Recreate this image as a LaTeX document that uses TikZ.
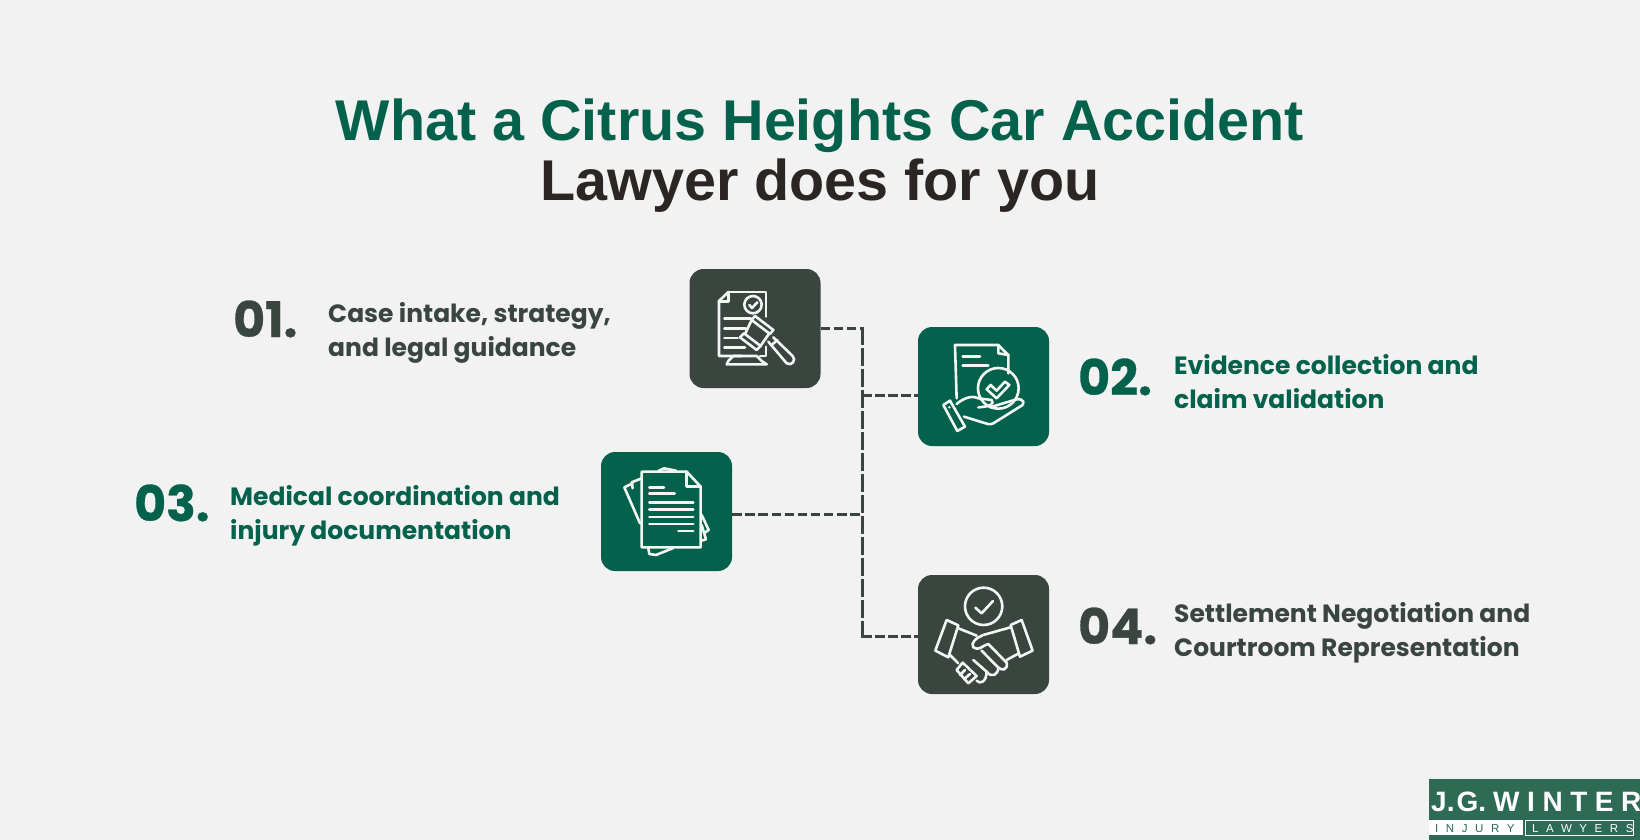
\documentclass[tikz,border=0pt]{standalone}
\usepackage{fontspec}
\setmainfont{Poppins}
\newfontfamily\titlefont{Liberation Sans}
\newfontfamily\numfont{Poppins}[BoldFeatures={FakeBold=0.6}]
\newfontfamily\lgA{Liberation Sans}[LetterSpace=27]
\newfontfamily\lgB{Liberation Sans}[LetterSpace=66]
\definecolor{bg}{HTML}{F2F2F2}
\definecolor{grn}{HTML}{04614B}
\definecolor{drk}{HTML}{3A4540}
\definecolor{ttl}{HTML}{2B2523}
\definecolor{logo}{HTML}{2E6B55}
\definecolor{ink}{HTML}{F2F7F4}
\tikzset{
 tile/.style={rounded corners=14pt,minimum width=131pt,minimum height=119pt,inner sep=0pt,anchor=center},
 link/.style={draw=drk,line width=3pt,dash pattern=on 9.5pt off 3.6pt},
 vlink/.style={draw=drk,line width=3pt,dash pattern=on 18pt off 3pt},
 numtxt/.style={font=\numfont\bfseries\fontsize{49}{49}\selectfont,anchor=base west,inner sep=0pt},
 lbl/.style={font=\bfseries\fontsize{25}{34}\selectfont,anchor=base west,inner sep=0pt},
 ic/.style={draw=ink,line width=2.6pt,line join=round,line cap=round},
 ttlt/.style={font=\titlefont\bfseries\fontsize{57.5}{58}\selectfont,anchor=base,inner sep=0pt}
}
\begin{document}
\begin{tikzpicture}[x=1pt,y=-1pt]
\path[fill=bg] (0,0) rectangle (1640,840);
\useasboundingbox (0,0) rectangle (1640,840);
\node[ttlt,text=grn] (t1) at (820,140) {What a Citrus Heights Car Accident};
\node[ttlt,text=ttl] (t2) at (820,200) {Lawyer does for you};
\node[tile,fill=drk] (b1) at (755,328.5) {};
\node[tile,fill=grn] (b2) at (983.5,386.5) {};
\node[tile,fill=grn] (b3) at (666.5,511.5) {};
\node[tile,fill=drk] (b4) at (983.5,634.5) {};
\coordinate (j2) at (862,395);
\coordinate (j3) at (862,514);
\coordinate (top) at (862,328);
\coordinate (bot) at (862,636);
\draw[link] (b1.east |- top) -- (top);
\draw[vlink] ([yshift=1.5pt]top) -- ([yshift=-1.5pt]bot);
\draw[link] (j2) -- (b2.west |- j2);
\draw[link] (b3.east |- j3) -- (j3);
\draw[link] (bot) -- (b4.west |- bot);
\node[numtxt,text=drk] (n1) at (233,337) {01.};
\node[numtxt,text=grn] (n2) at (1078,395) {02.};
\node[numtxt,text=grn] (n3) at (134,521) {03.};
\node[numtxt,text=drk] (n4) at (1078,644) {04.};
\node[lbl,text=drk,align=left] (l1) at (328,356) {Case intake, strategy,\\and legal guidance};
\node[lbl,text=grn,align=left] (l2) at (1174,408) {Evidence collection and\\claim validation};
\node[lbl,text=grn,align=left] (l3) at (230,539) {Medical coordination and\\injury documentation};
\node[lbl,text=drk,align=left] (l4) at (1174,656) {Settlement Negotiation and\\Courtroom Representation};
\begin{scope}[shift={(670,250)},x=0.3333pt,y=-0.3333pt]
\draw[ic] (175,126) -- (288,126) -- (288,200);
\draw[ic] (175,126) -- (147,153) -- (147,318) -- (215,318);
\draw[ic] (175,126) -- (175,155) -- (147,155);
\draw[ic] (249,164) circle[radius=26];
\draw[ic] (238,165) -- (246,174) -- (262,157);
\draw[ic] (163,205) -- (243,205);
\draw[ic] (163,235) -- (228,235);
\draw[ic] (163,264) -- (203,264);
\draw[ic] (163,293) -- (225,293);
\draw[ic] (288,290) -- (288,318) -- (270,318);
\draw[ic] (255,198) -- (310,240) -- (300,252) -- (245,210) -- cycle;
\draw[ic] (222,250) -- (272,288) -- (260,300) -- (210,262) -- cycle;
\draw[ic] (245,210) -- (225,252);
\draw[ic] (298,250) -- (270,290);
\draw[ic] (295,275) -- (350,340) .. controls (365,350) and (380,330) .. (368,318) -- (310,262);
\draw[ic] (305,285) -- (322,270);
\draw[ic] (190,318) -- (260,318) -- (275,333) -- (290,343) -- (170,343) -- (175,333) -- cycle;
\end{scope}
\begin{scope}[shift={(670,250)},x=0.3333pt,y=-0.3333pt]
\draw[ic] (860,445) -- (855,285) -- (985,285) -- (1015,315) -- (1015,370);
\draw[ic] (985,285) -- (985,310) -- (1015,315);
\draw[ic] (878,320) -- (930,320);
\draw[ic] (878,346) -- (955,346);
\draw[ic] (985,415) circle[radius=61];
\draw[ic] (950,418) -- (980,445) -- (1018,405) -- (1005,395) -- (980,422) -- (962,405) -- cycle;
\draw[ic] (860,462) .. controls (880,445) and (905,435) .. (925,445) -- (965,450) .. controls (975,462) and (960,470) .. (925,472);
\draw[ic] (960,472) -- (1040,448) .. controls (1062,445) and (1068,462) .. (1050,470) -- (970,520) .. controls (960,525) and (950,522) .. (940,518) -- (882,500);
\draw[ic] (820,465) -- (840,452) -- (885,530) -- (862,543) -- cycle;
\fill[ink] (838,472) circle[radius=4];
\end{scope}
\begin{scope}[shift={(590,440)},x=0.3333pt,y=-0.3333pt]
\draw[ic] (155,95) -- (290,95) -- (332,140) -- (332,322) -- (155,322) -- cycle;
\draw[ic] (290,95) -- (290,140) -- (332,140);
\draw[ic] (178,142) -- (222,142);
\draw[ic] (178,161) -- (254,161);
\draw[ic] (178,187) -- (310,187);
\draw[ic] (178,209) -- (310,209);
\draw[ic] (178,231) -- (310,231);
\draw[ic] (178,252) -- (310,252);
\draw[ic] (265,273) -- (310,273);
\draw[ic] (155,115) -- (125,127) -- (128,145);
\draw[ic] (150,250) -- (103,142) -- (128,130);
\draw[ic] (205,93) -- (222,85) -- (258,92);
\draw[ic] (175,325) -- (178,342) -- (198,345) -- (250,324);
\draw[ic] (335,225) -- (356,270) -- (345,278);
\draw[ic] (335,255) -- (348,298) -- (335,302);
\end{scope}
\begin{scope}[shift={(590,440)},x=0.3333pt,y=-0.3333pt]
\draw[ic] (1181,499) circle[radius=56];
\draw[ic] (1156,503) -- (1175,520) -- (1209,483);
\draw[ic] (1070,540) -- (1105,556) -- (1075,652) -- (1036,632) -- cycle;
\draw[ic] (1295,540) -- (1262,555) -- (1290,650) -- (1328,632) -- cycle;
\draw[ic] (1105,565) -- (1160,587);
\draw[ic] (1262,562) -- (1180,585) .. controls (1160,592) and (1140,610) .. (1150,622) .. controls (1165,635) and (1180,615) .. (1195,612) -- (1250,668) .. controls (1255,690) and (1235,695) .. (1222,680) -- (1175,632);
\draw[ic] (1283,642) -- (1250,660);
\draw[ic] (1225,682) .. controls (1225,705) and (1205,715) .. (1190,695) -- (1150,660);
\draw[ic] (1190,695) .. controls (1190,725) and (1170,735) .. (1160,722);
\draw[ic] (1118,668) -- (1160,708) -- (1135,730) -- (1100,690) -- cycle;
\draw[ic] (1080,645) -- (1105,670);
\draw[ic] (1125,690) -- (1110,705);
\draw[ic] (1140,702) -- (1122,718);
\end{scope}
\fill[logo] (1429,779) rectangle (1640,840);
\node[font=\titlefont\bfseries\fontsize{28}{28}\selectfont,text=white,anchor=base west,inner sep=0pt] (lg) at (1431,811) {J.\kern2pt G.};
\node[font=\lgA\bfseries\fontsize{28}{28}\selectfont,text=white,anchor=base west,inner sep=0pt] (lgw) at (1493,811) {WINTER};
\fill[white] (1429,820) rectangle (1523,835);
\draw[white,line width=0.5pt] (1525,820) rectangle (1633,835);
\node[font=\lgB\fontsize{11.5}{12}\selectfont,text=logo,anchor=base west,inner sep=0pt] (lg2) at (1435,832) {INJURY};
\node[font=\lgB\fontsize{11.5}{12}\selectfont,text=white,anchor=base west,inner sep=0pt] (lg3) at (1532,832) {LAWYERS};
\end{tikzpicture}
\end{document}
